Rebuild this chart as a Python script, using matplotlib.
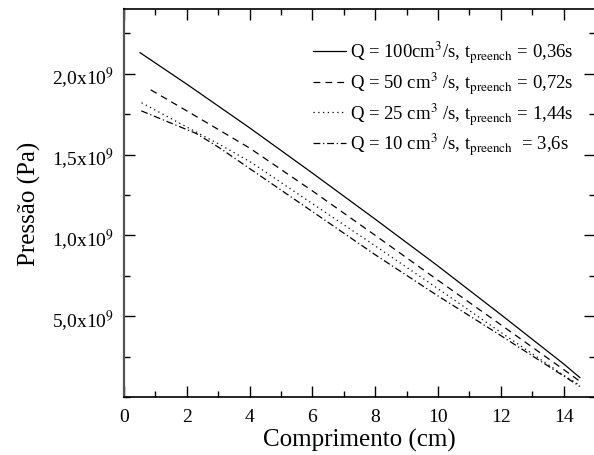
import numpy as np
import matplotlib
matplotlib.use("Agg")
import matplotlib.pyplot as plt
from matplotlib.ticker import MultipleLocator, FixedLocator

plt.rcParams['font.family'] = ['Liberation Serif', 'DejaVu Serif']
plt.rcParams['mathtext.fontset'] = 'stix'

# Data (pressure in units of 1e9 Pa)
x_100 = [0.51, 2.0, 4.0, 6.0, 8.0, 10.0, 12.0, 14.0, 14.52]
p_100 = [2.13, 1.935, 1.665, 1.385, 1.10, 0.81, 0.51, 0.205, 0.12]
x_50 = [0.85, 2.0, 4.0, 6.0, 8.0, 10.0, 12.0, 14.0, 14.5]
p_50 = [1.90, 1.77, 1.54, 1.275, 1.00, 0.722, 0.447, 0.17, 0.10]
x_25 = [0.56, 2.0, 3.16, 4.06, 6.0, 8.0, 10.0, 12.0, 14.0, 14.5]
p_25 = [1.82, 1.67, 1.55, 1.45, 1.196, 0.935, 0.67, 0.40, 0.135, 0.075]
x_10 = [0.55, 2.3, 3.05, 4.1, 6.0, 8.0, 10.0, 12.0, 14.0, 14.52]
p_10 = [1.77, 1.63, 1.54, 1.40, 1.147, 0.88, 0.625, 0.38, 0.13, 0.065]

labels = [
    r'Q = 100cm$^3$/s, t$_{\mathrm{preench}}$ = 0,36s',
    r'Q = 50 cm$^3$ /s, t$_{\mathrm{preench}}$ = 0,72s',
    r'Q = 25 cm$^3$ /s, t$_{\mathrm{preench}}$ = 1,44s',
    r'Q = 10 cm$^3$ /s, t$_{\mathrm{preench}}$  = 3,6s',
]
ytick_vals = [0.5, 1.0, 1.5, 2.0]
ytick_labels = [r'5,0x10$^9$', r'1,0x10$^9$', r'1,5x10$^9$', r'2,0x10$^9$']
xtick_vals = [0, 2, 4, 6, 8, 10, 12, 14]

fig = plt.figure(figsize=(5.94, 4.56), dpi=100)
W, H = 594, 456
ax = fig.add_axes([124 / W, 1 - 398 / H, 471 / W, 388 / H])

ax.plot(x_100, p_100, color='black', lw=0.9, ls='-', label=labels[0])
ax.plot(x_50, p_50, color='black', lw=0.9, dashes=(5.5, 4), label=labels[1])
ax.plot(x_25, p_25, color='black', lw=0.9, dashes=(1, 2.8), label=labels[2])
ax.plot(x_10, p_10, color='black', lw=0.9, dashes=(5.5, 2.2, 1, 2.2), label=labels[3])

ax.set_xlim(0, 15)
ax.set_ylim(0, 2.4)
ax.xaxis.set_major_locator(FixedLocator(xtick_vals))
ax.xaxis.set_minor_locator(MultipleLocator(1))
ax.yaxis.set_major_locator(FixedLocator(ytick_vals))
ax.set_yticklabels(ytick_labels)
ax.yaxis.set_minor_locator(MultipleLocator(0.25))

ax.tick_params(which='both', direction='in', top=True, right=True, labelsize=14, colors='black')
ax.tick_params(which='major', length=8, width=1)
ax.tick_params(which='minor', length=4.5, width=1)
ax.tick_params(axis='x', pad=8)
ax.tick_params(axis='y', pad=7)
for s in ax.spines.values():
    s.set_linewidth(1.2)
ax.spines['left'].set_color('#555555')
ax.spines['left'].set_linewidth(1.6)

ax.set_xlabel('Comprimento (cm)', fontsize=18, labelpad=2)
ax.set_ylabel('Pressão (Pa)', fontsize=18, labelpad=8)

leg = ax.legend(loc='upper left', bbox_to_anchor=(313 / W, 1 - 40 / H),
                bbox_transform=fig.transFigure, frameon=False, fontsize=13.5,
                borderpad=0, borderaxespad=0, handlelength=1.75, handletextpad=0.2,
                labelspacing=0.24)

fig.savefig('out.png', dpi=100)
